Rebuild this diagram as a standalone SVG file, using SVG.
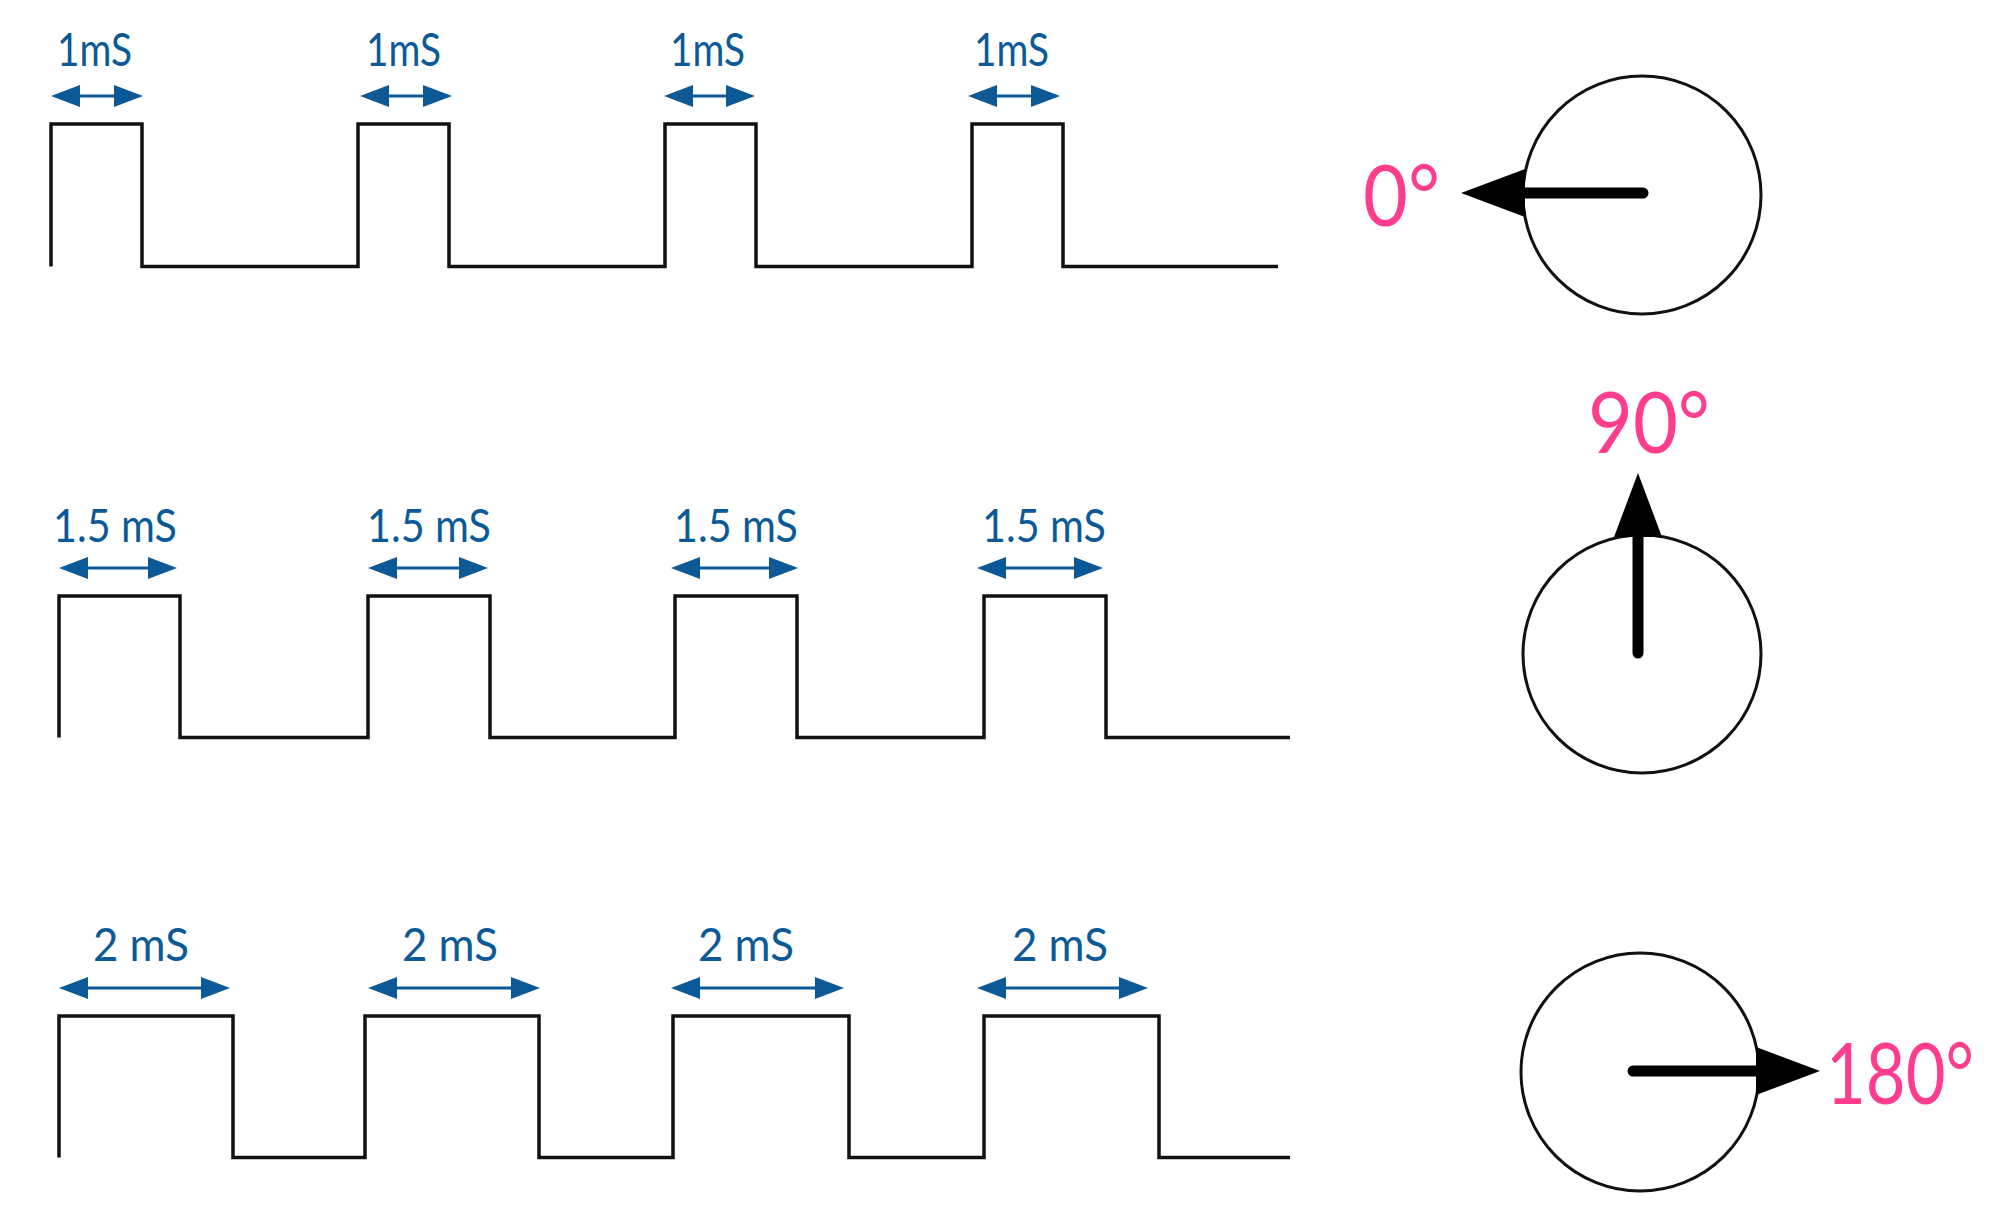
<svg xmlns="http://www.w3.org/2000/svg" width="1996" height="1208" viewBox="0 0 1996 1208">
  <style>
    .wave { fill: none; stroke: #111; stroke-width: 3.5; stroke-linejoin: miter; }
    .dim { stroke: #0b5a97; stroke-width: 3; marker-start: url(#bh); marker-end: url(#bh); }
    .lbl { font-family: Lato, "Open Sans", "Liberation Sans", sans-serif; font-size: 46px; fill: #0b5a97; }
    .dial { fill: none; stroke: #111; stroke-width: 3; }
    .hand { stroke: #000; stroke-width: 11; stroke-linecap: round; marker-end: url(#kh); }
    .deg { font-family: Lato, "Open Sans", "Liberation Sans", sans-serif; font-size: 86px; fill: #ff3d8f; }
  </style>
  <defs>
    <marker id="bh" viewBox="-20 -12 31 24" markerWidth="31" markerHeight="24" refX="0" refY="0" markerUnits="userSpaceOnUse" orient="auto-start-reverse">
      <path d="M-19,-11 L10,0 L-19,11 z" fill="#0b5a97"/>
    </marker>
    <marker id="kh" viewBox="-35 -25 66 50" markerWidth="66" markerHeight="50" refX="0" refY="0" markerUnits="userSpaceOnUse" orient="auto">
      <path d="M-34,-24 L30,0 L-34,24 z" fill="#000"/>
    </marker>
  </defs>
  <rect width="1996" height="1208" fill="#fff"/>

  <g id="row-1ms">
    <path class="wave" d="M51,266.5 V124 H142 V266.5 H358 V124 H449 V266.5 H665 V124 H756 V266.5 H972 V124 H1063 V266.5 H1278"/>
    <text class="lbl" x="57" y="66" textLength="75" lengthAdjust="spacingAndGlyphs">1mS</text>
    <text class="lbl" x="366" y="66" textLength="75" lengthAdjust="spacingAndGlyphs">1mS</text>
    <text class="lbl" x="670" y="66" textLength="75" lengthAdjust="spacingAndGlyphs">1mS</text>
    <text class="lbl" x="974" y="66" textLength="75" lengthAdjust="spacingAndGlyphs">1mS</text>
  </g>

  <g id="row-1-5ms">
    <path class="wave" d="M59,737.5 V596 H180 V737.5 H368 V596 H490 V737.5 H675 V596 H797 V737.5 H984 V596 H1106 V737.5 H1290"/>
    <text class="lbl" x="53" y="542" textLength="124" lengthAdjust="spacingAndGlyphs">1.5 mS</text>
    <text class="lbl" x="367" y="542" textLength="124" lengthAdjust="spacingAndGlyphs">1.5 mS</text>
    <text class="lbl" x="674" y="542" textLength="124" lengthAdjust="spacingAndGlyphs">1.5 mS</text>
    <text class="lbl" x="982" y="542" textLength="124" lengthAdjust="spacingAndGlyphs">1.5 mS</text>
  </g>

  <g id="row-2ms">
    <path class="wave" d="M59,1157.5 V1016 H233 V1157.5 H365 V1016 H539 V1157.5 H673 V1016 H849 V1157.5 H984 V1016 H1159 V1157.5 H1290"/>
    <text class="lbl" x="93" y="961" textLength="96" lengthAdjust="spacingAndGlyphs">2 mS</text>
    <text class="lbl" x="402" y="961" textLength="96" lengthAdjust="spacingAndGlyphs">2 mS</text>
    <text class="lbl" x="698" y="961" textLength="96" lengthAdjust="spacingAndGlyphs">2 mS</text>
    <text class="lbl" x="1012" y="961" textLength="96" lengthAdjust="spacingAndGlyphs">2 mS</text>
  </g>

  <g id="dial-0">
    <circle class="dial" cx="1642" cy="195" r="119"/>
    <text class="deg" x="1363" y="226" textLength="77" lengthAdjust="spacingAndGlyphs">0°</text>
  </g>
  <g id="dial-90">
    <circle class="dial" cx="1642" cy="654" r="119"/>
    <text class="deg" x="1588" y="453" textLength="122" lengthAdjust="spacingAndGlyphs">90°</text>
  </g>
  <g id="dial-180">
    <circle class="dial" cx="1640" cy="1072" r="119"/>
    <text class="deg" transform="translate(1826,1104) scale(1,1.1)" x="0" y="0" style="font-size:78px" textLength="148" lengthAdjust="spacingAndGlyphs">180°</text>
  </g>

  <g id="connectors">
    <line class="dim" x1="61" y1="96" x2="133" y2="96"/>
    <line class="dim" x1="370" y1="96" x2="442" y2="96"/>
    <line class="dim" x1="674" y1="96" x2="745" y2="96"/>
    <line class="dim" x1="978" y1="96" x2="1050" y2="96"/>

    <line class="dim" x1="69" y1="568" x2="167" y2="568"/>
    <line class="dim" x1="378" y1="568" x2="478" y2="568"/>
    <line class="dim" x1="681" y1="568" x2="788" y2="568"/>
    <line class="dim" x1="987" y1="568" x2="1093" y2="568"/>

    <line class="dim" x1="69" y1="988" x2="220" y2="988"/>
    <line class="dim" x1="378" y1="988" x2="530" y2="988"/>
    <line class="dim" x1="681" y1="988" x2="834" y2="988"/>
    <line class="dim" x1="987" y1="988" x2="1138" y2="988"/>

    <line class="hand" x1="1643" y1="193" x2="1491" y2="193"/>
    <line class="hand" x1="1638" y1="653" x2="1638" y2="503"/>
    <line class="hand" x1="1633" y1="1071" x2="1790" y2="1071"/>
  </g>
</svg>
